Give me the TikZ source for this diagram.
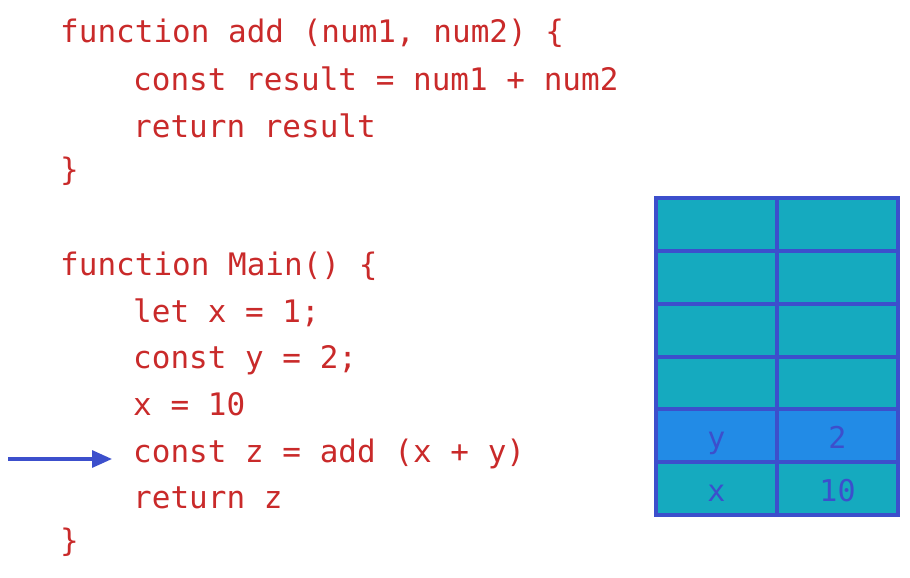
\documentclass[tikz,border=0pt]{standalone}
\usepackage{fontspec}
\usepackage{tikz}
\usetikzlibrary{arrows.meta}

\newfontfamily\codefont{DejaVu Sans Mono}
\definecolor{codered}{HTML}{C92A2A}
\definecolor{stackline}{HTML}{3C4FCC}
\definecolor{slotteal}{HTML}{15AABF}
\definecolor{slotblue}{HTML}{228BE6}

\tikzset{
  code/.style={anchor=base west, inner sep=0pt, text=codered,
    font=\codefont\fontsize{31}{31}\selectfont},
  slot/.style={draw=stackline, line width=4pt, fill=slotteal, anchor=center,
    minimum width=121pt, minimum height=52.8pt, inner sep=0pt, outer sep=0pt,
    text height=26pt, text depth=0pt,
    text=stackline, font=\codefont\fontsize{30}{30}\selectfont},
  pointer/.style={draw=stackline, line width=3.2pt,
    -{Triangle[length=20pt,width=17pt]}, shorten >=21pt},
}

\begin{document}
\begin{tikzpicture}[x=1pt, y=-1pt]
      \useasboundingbox (0,0) rectangle (910,578);

      % add
      \node[code] (addhead) at (60,43)  {function add (num1, num2) \{};
      \node[code] (addsum)  at (133,90) {const result = num1 + num2};
      \node[code] (addret)  at (133,137) {return result};
      \node[code] (addend)  at (60,180) {\}};

      % main
      \node[code] (mainhead) at (60,275)  {function Main() \{};
      \node[code] (letx)     at (133,322) {let x = 1;};
      \node[code] (consty)   at (133,368) {const y = 2;};
      \node[code] (setx)     at (133,415) {x = 10};
      \node[code] (callline) at (133,462) {const z = add (x + y)};
      \node[code] (mainret)  at (133,508) {return z};
      \node[code] (mainend)  at (60,551)  {\}};

      % stack
      \matrix[column sep=-4pt, row sep=-4pt] (stack) at (777,356.5)
      {
        \node[slot] (s61) {}; & \node[slot] (s62) {}; \\
        \node[slot] (s51) {}; & \node[slot] (s52) {}; \\
        \node[slot] (s41) {}; & \node[slot] (s42) {}; \\
        \node[slot] (s31) {}; & \node[slot] (s32) {}; \\
        \node[slot, fill=slotblue] (s21) {y}; & \node[slot, fill=slotblue] (s22) {2}; \\
        \node[slot] (s11) {x}; & \node[slot] (s12) {10}; \\
      };

      \coordinate (pointstart) at (8,459);
      \draw[pointer] (pointstart) -- (pointstart -| callline.west);
    \end{tikzpicture}
\end{document}
